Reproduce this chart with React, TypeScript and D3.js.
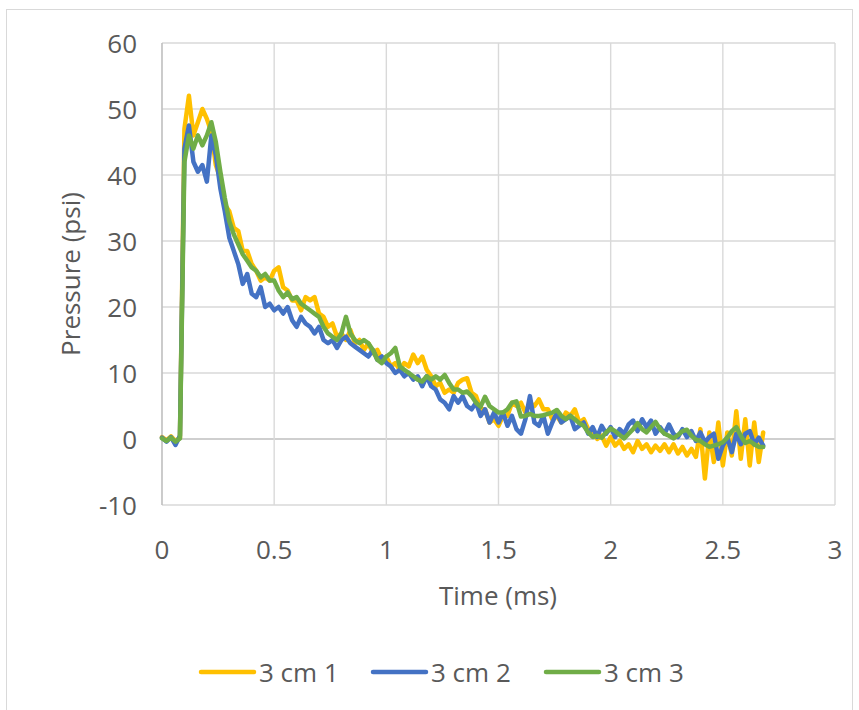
import React from "react";
import * as d3 from "d3";

// Sample times: every 0.02 ms from 0 to 2.68 ms
const timeStep = 0.02;

const series1 = [
  0.3, -0.2, 0.4, -0.3, 0.2, 47, 52, 46, 48, 50,
  48.5, 46.5, 41.5, 39.5, 35.5, 34.5, 32, 31.5, 28.5, 28.5,
  26.5, 25.5, 24, 24.5, 24, 25.5, 26, 23, 22.5, 21,
  21, 19.5, 21.5, 21, 21.5, 19, 18.5, 17, 17.5, 15.5,
  16, 15, 16.5, 14.5, 15, 13.5, 14.5, 13, 13.5, 12,
  12.5, 11, 11.5, 10.5, 11.5, 11, 12.8, 11.5, 12.5, 10.5,
  9.5, 8, 8.5, 7, 7.5, 7, 8.5, 9, 9.2, 7,
  6.5, 4.5, 4.5, 2.5, 3, 2, 3.5, 3.5, 5.5, 5,
  5.5, 4, 5.5, 5, 6, 4.5, 4.5, 3, 3.5, 2.5,
  4, 3.5, 4.5, 2.5, 3, 1.5, 1.2, 0, 0.5, -1,
  0.3, -1, -0.3, -1.5, -0.8, -2, -0.3, -1.5, -0.8, -2,
  -1, -1.8, -0.8, -2, -0.8, -2.2, -1.2, -2.5, -1.5, -2.7,
  1.5, -6, 1, -3.5, 2.5, -4, 1, -2.5, 4.2, -3,
  3, -4, 2.5, -3.5, 1,
];

const series2 = [
  0.2, -0.4, 0.3, -0.9, 0.5, 44, 47.5, 42, 40.5, 41.5,
  39, 46, 43, 38, 34.5, 30.5, 28.5, 26.5, 23.5, 25,
  22, 21.5, 23, 20, 20.5, 19.5, 20, 19, 20, 18,
  17, 18.5, 17.5, 17, 16, 17, 15, 14.5, 15, 13.8,
  15, 15.5, 14.5, 14, 13.5, 13, 12.5, 13.5, 12, 12.5,
  11.5, 11, 10, 10.5, 9.5, 10, 9, 9.5, 8, 9.5,
  8, 7.5, 6, 5.5, 4.5, 6.5, 5.5, 6.5, 5, 4.5,
  5.5, 3.5, 4.5, 2.5, 4, 2.5, 4, 2, 3.5, 1.5,
  0.8, 3, 6.5, 2.5, 2, 3.5, 0.8, 2.5, 4, 2.5,
  3, 3.5, 1.5, 2, 2.5, 0.8, 1.8, 0.3, 2, 0.8,
  1.8, 0.3, 1.5, 0.8, 2.2, 2.8, 1.2, 3, 1.8, 2.8,
  0.8, 1.8, 0.8, 2.2, 0.8, 0.3, 1.5, 0.3, 1.2, -0.3,
  1, -0.5, 0.3, 0.8, -3, -1, 0.2, -2, 0.8, -0.8,
  0.8, 1.2, -0.8, 0.2, -1,
];

const series3 = [
  0.1, -0.3, 0.2, -0.4, 0.1, 42, 46, 44, 46, 44.5,
  46, 48, 45, 40.5, 36.5, 33, 31, 29.5, 28, 27,
  26, 25.5, 24.5, 25, 24, 24, 22.5, 21.5, 22.2, 21.2,
  21.5, 20.5, 20, 19.5, 19, 18.5, 17, 16, 15.5, 15,
  16, 18.5, 16, 15, 14.5, 15, 14.5, 13.5, 12, 11.5,
  12.5, 13, 13.8, 11, 10.5, 10, 9.5, 9, 8.7, 9.5,
  9, 9.5, 9, 9.7, 8.5, 7.5, 7.5, 7, 7.2, 6.5,
  5.5, 4.9, 6.4, 5, 4.5, 4, 4, 4.5, 5.5, 5.7,
  3.4, 3.5, 3.8, 3.5, 3.5, 3.6, 3.8, 4, 4.4, 3.5,
  3, 3.5, 3, 2.4, 2, 1, 0.3, 0.5, 0.2, 1,
  1.6, 1.2, 0.6, 0.1, 0.8, 1.5, 2.4, 1.5, 1, 1.8,
  2.6, 1.5, 0.8, 0.5, 0.1, 0.6, 1.2, 1.4, 0.5, -0.1,
  -0.3, -0.8, -1.2, -1, -0.8, -0.5, 0.2, 1.2, 1.8, 0.5,
  -0.6, -0.3, -0.8, -1.2, -1.2,
];

const seriesNames = ["3 cm 1", "3 cm 2", "3 cm 3"];
const seriesColors = ["#FFC000", "#4472C4", "#70AD47"];
const xTicks = [0, 0.5, 1, 1.5, 2, 2.5, 3];
const yTicks = [-10, 0, 10, 20, 30, 40, 50, 60];

const W = 859;
const H = 710;
const plot = { left: 162, right: 835, top: 43, bottom: 505 };
const FONT = "'Open Sans', sans-serif";
const TEXT = "#595959";
const FS = 26;

export default function App() {
  const x = d3.scaleLinear().domain([0, 3]).range([plot.left, plot.right]);
  const y = d3.scaleLinear().domain([-10, 60]).range([plot.bottom, plot.top]);
  const all = [series1, series2, series3];
  const line = d3
    .line<number>()
    .x((_, i) => x(i * timeStep))
    .y((d) => y(d));

  return (
    <svg
      width={W}
      height={H}
      style={{ position: "absolute", left: 0, top: 0, background: "#fff" }}
    >
      <rect x={6.5} y={9.5} width={846} height={720} fill="#fff" stroke="#d9d9d9" strokeWidth={1} />
      {yTicks.map((t) => (
        <line
          key={"gy" + t}
          x1={plot.left}
          x2={plot.right}
          y1={y(t)}
          y2={y(t)}
          stroke={t === 0 ? "#bfbfbf" : "#d9d9d9"}
          strokeWidth={t === 0 ? 1.6 : 1.4}
        />
      ))}
      {xTicks.map((t) => (
        <line
          key={"gx" + t}
          x1={x(t)}
          x2={x(t)}
          y1={plot.top}
          y2={plot.bottom}
          stroke={t === 0 ? "#bfbfbf" : "#d9d9d9"}
          strokeWidth={t === 0 ? 1.6 : 1.4}
        />
      ))}
      {yTicks.map((t) => (
        <text
          key={"ty" + t}
          x={137}
          y={y(t)}
          textAnchor="end"
          dominantBaseline="central"
          fontFamily={FONT}
          fontSize={FS}
          fill={TEXT}
        >
          {t}
        </text>
      ))}
      {xTicks.map((t) => (
        <text
          key={"tx" + t}
          x={x(t)}
          y={549}
          textAnchor="middle"
          dominantBaseline="central"
          fontFamily={FONT}
          fontSize={FS}
          fill={TEXT}
        >
          {t}
        </text>
      ))}
      <text
        x={498}
        y={595}
        textAnchor="middle"
        dominantBaseline="central"
        fontFamily={FONT}
        fontSize={FS}
        fill={TEXT}
      >
        Time (ms)
      </text>
      <text
        transform={`translate(70,274) rotate(-90)`}
        textAnchor="middle"
        dominantBaseline="central"
        fontFamily={FONT}
        fontSize={FS}
        fill={TEXT}
      >
        Pressure (psi)
      </text>
      {all.map((s, k) => (
        <path
          key={"s" + k}
          d={line(s) || ""}
          fill="none"
          stroke={seriesColors[k]}
          strokeWidth={4.5}
          strokeLinejoin="round"
          strokeLinecap="round"
        />
      ))}
      {seriesNames.map((n, k) => {
        const lx = [201, 373, 546][k];
        return (
          <g key={"l" + k}>
            <line
              x1={lx}
              x2={lx + 53}
              y1={672}
              y2={672}
              stroke={seriesColors[k]}
              strokeWidth={4.5}
              strokeLinecap="round"
            />
            <text
              x={lx + 58}
              y={672}
              dominantBaseline="central"
              fontFamily={FONT}
              fontSize={FS}
              fill={TEXT}
            >
              {n}
            </text>
          </g>
        );
      })}
    </svg>
  );
}
